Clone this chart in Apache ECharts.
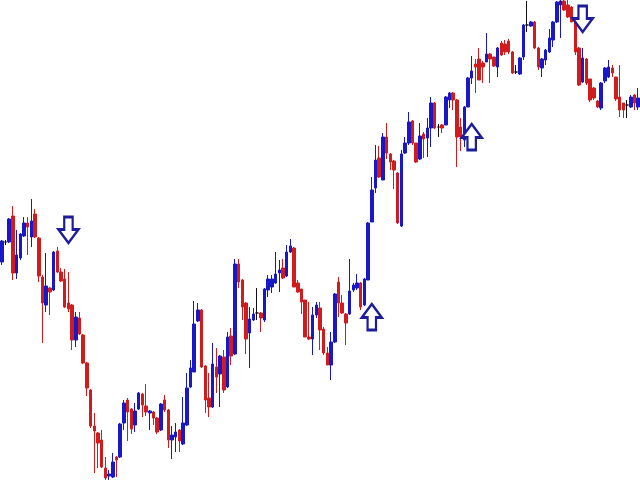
<!DOCTYPE html>
<html>
<head>
<meta charset="utf-8">
<script src="https://cdn.jsdelivr.net/npm/echarts@6/dist/echarts.min.js"></script>
<style>html,body{margin:0;padding:0;background:#fff}#c{width:640px;height:480px}</style>
</head>
<body>
<div id="c"></div>
<script>
const openP = [218,238,238,264,207,222,244,257,243,266,242,203,175,192,190,229,208,201,177,175,140,162,145,117,90,54,47,40,12,4,3,23,23,57,80,71,55,71,86,74,67,68,62,50,80,70,40,43,50,36,55,93,108,159,170,114,82,73,113,106,123,93,144,126,216,200,177,147,160,167,167,160,190,193,197,207,212,204,228,232,197,191,180,143,141,165,172,151,127,115,138,198,177,166,166,190,192,197,175,200,258,292,322,300,343,326,319,307,254,327,337,359,337,321,346,342,352,377,353,355,355,380,387,380,353,340,373,402,416,421,417,418,426,423,413,437,436,439,428,408,406,423,455,454,458,432,412,420,428,440,458,475,479,475,473,458,432,398,421,401,392,379,372,399,403,412,403,383,377,375,373,385,373];
const closeP = [239,238,261,207,225,246,257,253,259,243,204,177,194,188,228,208,199,173,171,140,163,146,117,92,54,49,37,13,2,6,18,20,56,77,68,51,69,87,75,68,69,62,48,76,70,40,45,48,39,57,92,112,156,170,113,80,73,116,103,124,90,143,124,216,198,173,141,161,166,167,162,191,201,201,206,210,202,228,234,193,188,178,143,141,165,175,150,127,115,138,186,177,167,157,189,195,197,173,201,257,290,320,303,343,327,318,310,257,326,337,358,337,318,344,341,352,377,352,353,352,383,387,380,343,343,373,402,409,413,400,413,426,421,414,432,425,428,428,407,408,422,455,455,458,432,413,421,430,442,458,478,479,470,463,458,428,395,422,397,380,382,373,397,412,413,407,381,370,370,375,383,377,382];
const highP = [240,240,262,274,250,247,263,263,281,271,243,205,227,193,229,233,212,211,208,176,168,168,146,118,91,67,48,50,23,10,27,24,57,80,82,72,77,88,87,96,70,69,63,77,85,71,54,57,51,83,107,120,179,177,171,115,107,137,132,125,130,148,152,221,221,201,178,173,172,192,168,192,205,205,228,220,221,235,241,233,200,191,180,178,173,178,178,153,133,148,187,203,185,167,221,197,206,198,202,258,303,335,334,347,357,327,320,308,330,343,368,360,337,357,348,362,383,378,356,356,384,388,388,381,362,374,403,424,421,432,419,447,427,423,433,439,440,441,429,415,423,456,479,459,459,433,422,431,451,459,479,480,480,480,474,459,433,432,422,401,393,380,398,413,420,415,403,415,377,380,385,386,392];
const lowP = [215,235,237,200,201,220,243,225,233,242,198,137,168,165,189,207,198,172,168,130,133,145,116,84,52,7,12,12,0,0,2,3,22,50,39,46,48,70,63,64,50,55,46,49,68,32,21,28,28,35,54,92,108,158,112,67,63,72,87,73,87,92,115,125,192,160,126,112,159,160,148,158,183,187,196,188,201,203,227,193,187,166,143,140,125,162,130,125,115,100,137,163,166,135,165,188,190,170,174,200,258,287,302,300,321,310,291,256,253,326,335,335,317,320,322,323,333,351,343,347,355,372,370,313,329,333,373,396,387,400,397,418,397,413,403,424,425,426,406,406,405,420,448,453,431,410,403,415,427,433,457,442,469,462,458,425,394,397,395,378,380,372,370,397,402,403,379,363,362,362,372,370,370];

// signal arrows: [candle index, price level]
const downArrows = [[18, 250], [157, 461]];
const upArrows = [[100, 163], [127, 343]];

const categories = openP.map((_, i) => String(i + 1));
const candles = openP.map((o, i) => [o, closeP[i], lowP[i], highP[i]]);

const downPath = 'path://M-4,0 L4,0 L4,12 L9.5,12 L0,25 L-9.5,12 L-4,12 Z';
const upPath = 'path://M0,0 L9.5,13 L4,13 L4,25 L-4,25 L-4,13 L-9.5,13 Z';

const chart = echarts.init(document.getElementById('c'), null, {renderer: 'canvas'});
chart.setOption({
  animation: false,
  backgroundColor: '#ffffff',
  grid: {left: 0, right: 0, top: 0, bottom: 0},
  xAxis: {type: 'category', data: categories, show: false, boundaryGap: true},
  yAxis: {type: 'value', min: 0, max: 480, show: false},
  series: [
    {
      type: 'candlestick',
      data: candles,
      barWidth: 3,
      itemStyle: {
        color: '#1818c8',
        color0: '#d01c1c',
        borderColor: '#1818c8',
        borderColor0: '#d01c1c',
        borderColorDoji: '#111111',
        borderWidth: 1
      }
    },
    {
      type: 'scatter',
      data: downArrows,
      symbol: downPath,
      symbolSize: [20, 26],
      z: 5,
      itemStyle: {color: '#ffffff', borderColor: '#1c1c9c', borderWidth: 2.5, opacity: 1}
    },
    {
      type: 'scatter',
      data: upArrows,
      symbol: upPath,
      symbolSize: [20, 26],
      z: 5,
      itemStyle: {color: '#ffffff', borderColor: '#1c1c9c', borderWidth: 2.5, opacity: 1}
    }
  ]
});
</script>
</body>
</html>
